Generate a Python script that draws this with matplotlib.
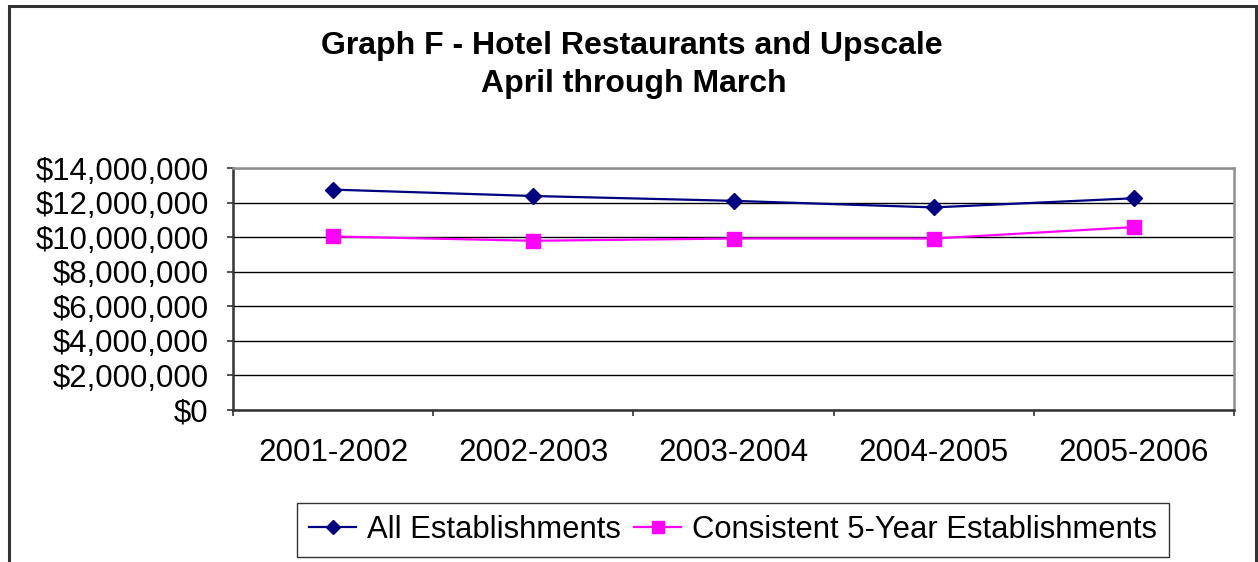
import numpy as np
import matplotlib
matplotlib.use('Agg')
import matplotlib.pyplot as plt
from matplotlib.patches import Rectangle
from matplotlib.ticker import FuncFormatter, FixedLocator

plt.rcParams['font.family'] = ['Liberation Sans', 'DejaVu Sans']

# Data
years = ['2001-2002', '2002-2003', '2003-2004', '2004-2005', '2005-2006']
all_est = [12750000, 12380000, 12100000, 11720000, 12250000]
consistent_est = [10040000, 9790000, 9920000, 9920000, 10580000]
series_names = ['All Establishments', 'Consistent 5-Year Establishments']

W, H = 1258, 562
fig = plt.figure(figsize=(W/100, H/100), dpi=100)

# outer chart border (bottom edge cut off in the reference)
fig.patches.append(Rectangle((8.5/W, -0.05), (1256-8.5)/W, 1.05-6/H,
                             transform=fig.transFigure, fill=False,
                             edgecolor='#333333', linewidth=2.2, clip_on=False))

# plot area in pixel coords
left, right, top, bottom = 233, 1234, 168, 410
ax = fig.add_axes([left/W, 1-bottom/H, (right-left)/W, (bottom-top)/H])

x = np.arange(len(years))
ax.plot(x, all_est, color='#000080', linewidth=1.6, marker='D', markersize=8.5,
        label=series_names[0])
ax.plot(x, consistent_est, color='#FF00FF', linewidth=1.6, marker='s', markersize=9.5,
        label=series_names[1])

ax.set_xlim(-0.5, len(years)-0.5)
ax.set_ylim(0, 14000000)
ax.set_yticks(np.arange(0, 14000001, 2000000))
ax.yaxis.set_major_formatter(FuncFormatter(lambda v, p: '${:,.0f}'.format(v)))
ax.set_xticks(x)
ax.set_xticklabels(years)
ax.xaxis.set_minor_locator(FixedLocator(np.arange(-0.5, len(years), 1.0)))

ax.grid(axis='y', color='black', linewidth=1.0)
ax.set_axisbelow(True)
ax.tick_params(axis='y', direction='out', length=4.5, width=1.2, pad=13,
               labelsize=22.4, color='#333333')
ax.tick_params(axis='x', which='major', length=0, pad=20, labelsize=22.6)
ax.tick_params(axis='x', which='minor', direction='out', length=4.5, width=1.2,
               color='#333333')

ax.spines['left'].set_color('#333333')
ax.spines['bottom'].set_color('#333333')
ax.spines['left'].set_linewidth(1.8)
ax.spines['bottom'].set_linewidth(1.8)
ax.spines['top'].set_color('#909090')
ax.spines['right'].set_color('#909090')
ax.spines['top'].set_linewidth(1.8)
ax.spines['right'].set_linewidth(1.8)

fig.text(632/W, 1-46/H, 'Graph F - Hotel Restaurants and Upscale', ha='center',
         va='center', fontsize=23, fontweight='bold')
fig.text(634/W, 1-84/H, 'April through March', ha='center', va='center',
         fontsize=23, fontweight='bold')

leg = fig.legend(loc='center', bbox_to_anchor=(733/W, 1-530/H), ncol=2,
                 fontsize=22.3, frameon=True, fancybox=False, handlelength=1.5,
                 handletextpad=0.35, columnspacing=0.45, borderpad=0.4,
                 borderaxespad=0, markerscale=0.85)
leg.get_frame().set_edgecolor('black')
leg.get_frame().set_linewidth(1.0)

fig.savefig('out.png', dpi=100)
